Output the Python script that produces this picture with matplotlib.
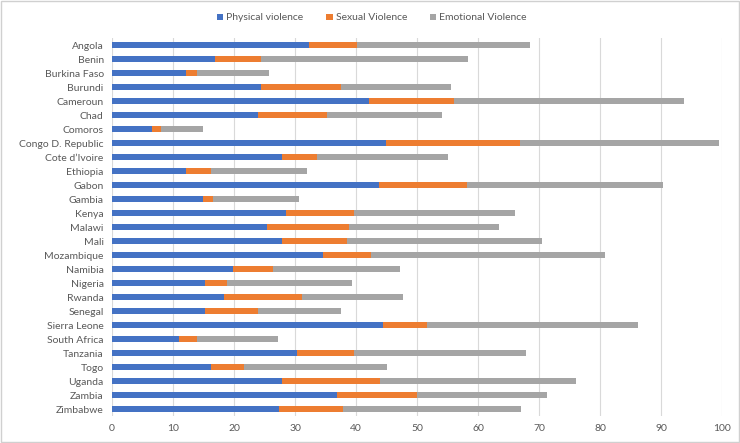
import matplotlib.pyplot as plt
from matplotlib.patches import Rectangle
import numpy as np

countries = ["Angola", "Benin", "Burkina Faso", "Burundi", "Cameroun", "Chad", "Comoros",
             "Congo D. Republic", "Cote d\u2019Ivoire", "Ethiopia", "Gabon", "Gambia", "Kenya",
             "Malawi", "Mali", "Mozambique", "Namibia", "Nigeria", "Rwanda", "Senegal",
             "Sierra Leone", "South Africa", "Tanzania", "Togo", "Uganda", "Zambia", "Zimbabwe"]

physical = [32.3, 16.9, 12.1, 24.4, 42.1, 23.9, 6.5, 44.9, 27.9, 12.2, 43.7, 14.9, 28.5,
            25.4, 27.8, 34.6, 19.9, 15.2, 18.4, 15.2, 44.5, 11.0, 30.4, 16.2, 27.8, 36.9, 27.4]
sexual = [7.9, 7.5, 1.9, 13.2, 14.0, 11.4, 1.6, 22.0, 5.7, 4.0, 14.5, 1.7, 11.2,
          13.4, 10.8, 7.9, 6.5, 3.7, 12.7, 8.7, 7.2, 3.0, 9.3, 5.4, 16.2, 13.1, 10.4]
emotional = [28.3, 33.9, 11.8, 17.9, 37.7, 18.8, 6.8, 32.6, 21.4, 15.7, 32.1, 14.1, 26.3,
             24.6, 31.9, 38.4, 20.8, 20.4, 16.6, 13.6, 34.6, 13.2, 28.1, 23.4, 32.0, 21.3, 29.2]

plt.rcParams['font.family'] = ['Lato', 'DejaVu Sans']

fig = plt.figure(figsize=(7.4, 4.43), dpi=100)
ax = fig.add_axes([112/740, 27/443, 610/740, 378/443])

y = np.arange(len(countries))
phys = np.array(physical)
sex = np.array(sexual)
emo = np.array(emotional)
h = 0.4
ax.barh(y, phys, height=h, color='#4472C4', label='Physical violence', zorder=3)
ax.barh(y, sex, left=phys, height=h, color='#ED7D31', label='Sexual Violence', zorder=3)
ax.barh(y, emo, left=phys + sex, height=h, color='#A5A5A5', label='Emotional Violence', zorder=3)

ax.set_xlim(0, 100)
ax.set_ylim(len(countries) - 0.5, -0.5)
ax.set_xticks(np.arange(0, 101, 10))
ax.set_yticks(y)
ax.set_yticklabels(countries)
ax.tick_params(length=0, labelsize=7.5, colors='#595959', pad=6)
ax.grid(axis='x', color='#d9d9d9', linewidth=0.8, zorder=0)
for s in ax.spines.values():
    s.set_visible(False)

ax.legend(loc='center', bbox_to_anchor=(372/740, 1 - 18/443), bbox_transform=fig.transFigure,
          ncol=3, frameon=False, fontsize=7.5, handlelength=0.6, handleheight=0.6,
          handletextpad=0.3, columnspacing=2.2, labelcolor='#595959')

fig.patches.append(Rectangle((0.002, 0.003), 0.996, 0.994, transform=fig.transFigure,
                             fill=False, edgecolor='#d0d0d0', linewidth=1))

fig.savefig('out.png', dpi=100)
